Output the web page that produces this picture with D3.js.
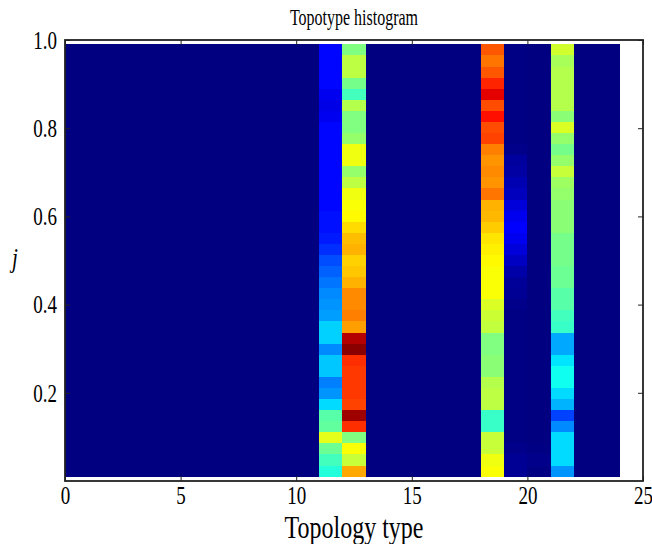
<!DOCTYPE html>
<html>
<head>
<meta charset="utf-8">
<script src="https://cdn.jsdelivr.net/npm/d3@7"></script>
<style>
  html, body { margin: 0; padding: 0; background: #fff; }
  svg { display: block; }
  text { font-family: "Liberation Serif", "DejaVu Serif", serif; fill: #000; }
</style>
</head>
<body>
<svg id="chart" width="652" height="544"></svg>
<script>
// Topology types shown on the x axis (each one is a unit-wide column)
const topologyTypes = d3.range(0, 24);
const xTicks = [0, 5, 10, 15, 20, 25];
const yTicks = [0.2, 0.4, 0.6, 0.8, 1.0];

// Range of j covered by the histogram rows
const jLow = 0.01;
const jHigh = 0.99;
const nRows = 39;

// Normalised histogram intensities, listed from the top row (j ≈ 0.99) down to j ≈ 0.01.
// Columns not listed here are empty (intensity 0).
const type11 = [0.13, 0.13, 0.13, 0.13, 0.11, 0.10, 0.11, 0.13, 0.13, 0.13,
                0.13, 0.13, 0.13, 0.13, 0.13, 0.14, 0.14, 0.15, 0.17, 0.20,
                0.22, 0.24, 0.26, 0.27, 0.28, 0.33, 0.33, 0.26, 0.32, 0.32,
                0.25, 0.27, 0.34, 0.46, 0.47, 0.60, 0.48, 0.44, 0.41];
const type12 = [0.50, 0.56, 0.56, 0.49, 0.44, 0.55, 0.50, 0.50, 0.52, 0.61,
                0.61, 0.52, 0.56, 0.61, 0.62, 0.63, 0.66, 0.69, 0.70, 0.67,
                0.68, 0.70, 0.74, 0.74, 0.75, 0.72, 0.95, 0.99, 0.83, 0.82,
                0.82, 0.82, 0.81, 0.97, 0.83, 0.50, 0.62, 0.57, 0.71];
const type18 = [0.79, 0.76, 0.79, 0.84, 0.90, 0.80, 0.86, 0.80, 0.81, 0.75,
                0.73, 0.74, 0.73, 0.76, 0.70, 0.695, 0.675, 0.65, 0.64, 0.63,
                0.62, 0.62, 0.62, 0.59, 0.575, 0.565, 0.50, 0.50, 0.51, 0.51,
                0.55, 0.56, 0.56, 0.43, 0.43, 0.57, 0.57, 0.61, 0.62];
const type19 = [0.005, 0.005, 0.005, 0.005, 0.005, 0.005, 0.005, 0.005, 0.005, 0.01,
                0.03, 0.035, 0.05, 0.06, 0.09, 0.11, 0.125, 0.11, 0.09, 0.065,
                0.04, 0.025, 0.02, 0.01, 0.005, 0.005, 0.005, 0.005, 0.005, 0.005,
                0.005, 0.005, 0.005, 0.005, 0.005, 0.005, 0.01, 0.02, 0.02];
const type20 = [0, 0, 0, 0, 0, 0, 0, 0, 0, 0,
                0, 0, 0, 0, 0, 0, 0, 0, 0, 0,
                0, 0, 0, 0, 0, 0, 0, 0, 0, 0,
                0, 0, 0, 0, 0, 0, 0.005, 0.01, 0.005];
const type21 = [0.58, 0.54, 0.55, 0.55, 0.55, 0.55, 0.51, 0.59, 0.52, 0.49,
                0.52, 0.57, 0.53, 0.52, 0.51, 0.51, 0.51, 0.49, 0.49, 0.49,
                0.48, 0.48, 0.46, 0.46, 0.44, 0.43, 0.29, 0.29, 0.35, 0.39,
                0.39, 0.34, 0.30, 0.19, 0.26, 0.34, 0.34, 0.34, 0.27];

const columnsWithCounts = { 11: type11, 12: type12, 18: type18, 19: type19, 20: type20, 21: type21 };

// Build the cell table: one entry per (type, row)
const rowHeight = (jHigh - jLow) / nRows;
const cells = [];
topologyTypes.forEach(t => {
  const col = columnsWithCounts[t];
  for (let k = 0; k < nRows; k++) {
    const top = jHigh - k * rowHeight;
    cells.push({ type: t, j0: top - rowHeight, j1: top, value: col ? col[k] : 0 });
  }
});

// Jet colour map
function jet(t) {
  const c = v => Math.max(0, Math.min(1, v));
  const r = c(1.5 - Math.abs(4 * t - 3));
  const g = c(1.5 - Math.abs(4 * t - 2));
  const b = c(1.5 - Math.abs(4 * t - 1));
  return d3.rgb(r * 255, g * 255, b * 255).toString();
}
const color = d3.scaleSequential(jet).domain([0, 1]);

const svg = d3.select("#chart");
const margin = { left: 65, right: 9, top: 40, bottom: 63 };
const W = 652, H = 544;
const x = d3.scaleLinear().domain([0, 25]).range([margin.left, W - margin.right]);
const y = d3.scaleLinear().domain([0, 1]).range([H - margin.bottom, margin.top]);

// Text is set in a tall, narrow serif face
const stretch = 1.3;

// Heatmap cells
svg.append("g")
  .selectAll("rect")
  .data(cells)
  .join("rect")
  .attr("x", d => x(d.type))
  .attr("y", d => y(d.j1))
  .attr("width", d => x(d.type + 1) - x(d.type) + 0.3)
  .attr("height", d => y(d.j0) - y(d.j1) + 0.3)
  .attr("fill", d => color(d.value))
  .attr("shape-rendering", "crispEdges");

// Axes with inward ticks on all four sides
const tickLen = 5;
const bottomAxis = d3.axisBottom(x).tickValues(xTicks).tickFormat(d3.format("d")).tickSizeInner(-tickLen).tickSizeOuter(0);
const topAxis = d3.axisTop(x).tickValues(xTicks).tickFormat("").tickSizeInner(-tickLen).tickSizeOuter(0);
const leftAxis = d3.axisLeft(y).tickValues(yTicks).tickFormat(d3.format(".1f")).tickSizeInner(-tickLen).tickSizeOuter(0);
const rightAxis = d3.axisRight(y).tickValues(yTicks).tickFormat("").tickSizeInner(-tickLen).tickSizeOuter(0);

function styleAxis(g) {
  g.attr("font-family", null).attr("font-size", null);
  g.select(".domain").remove();
  g.selectAll(".tick line").attr("stroke", "#222").attr("stroke-width", 1);
  g.selectAll(".tick text")
    .style("font-family", '"Liberation Serif", serif')
    .style("font-size", "19px")
    .attr("fill", "#000")
    .attr("dy", null)
    .attr("transform", `scale(1,${stretch})`);
}

svg.append("g").attr("transform", `translate(0,${y(0)})`).call(bottomAxis).call(styleAxis)
  .selectAll(".tick text").attr("y", 23 / stretch);
svg.append("g").attr("transform", `translate(0,${y(1)})`).call(topAxis).call(styleAxis);
svg.append("g").attr("transform", `translate(${x(0)},0)`).call(leftAxis).call(styleAxis)
  .selectAll(".tick text").attr("x", -8).attr("y", 8.2 / stretch);
svg.append("g").attr("transform", `translate(${x(25)},0)`).call(rightAxis).call(styleAxis);

// Frame
svg.append("rect")
  .attr("x", x(0)).attr("y", y(1))
  .attr("width", x(25) - x(0)).attr("height", y(0) - y(1))
  .attr("fill", "none").attr("stroke", "#222").attr("stroke-width", 1.8);

// Title and axis labels
function label(px, py, size, str, italic, sy) {
  svg.append("text")
    .attr("transform", `translate(${px},${py}) scale(1,${sy || stretch})`)
    .attr("text-anchor", "middle")
    .style("font-size", size + "px")
    .attr("font-style", italic ? "italic" : null)
    .text(str);
}
label((x(0) + x(25)) / 2, 25, 16, "Topotype histogram", false, 1.4);
label((x(0) + x(25)) / 2, 538, 24, "Topology type");
label(15, 267, 21, "j", true);
</script>
</body>
</html>
